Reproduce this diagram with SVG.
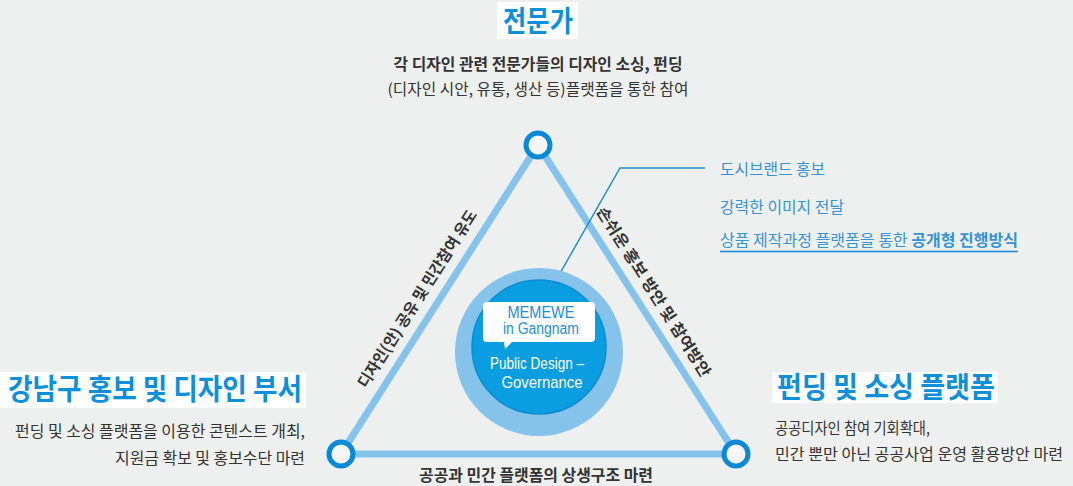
<svg xmlns="http://www.w3.org/2000/svg" width="1073" height="486" viewBox="0 0 1073 486">
<style>
.kr{font-family:"Noto Sans CJK KR","Noto Sans",sans-serif;}
.title{font-weight:700;fill:#0d8fd9;font-size:29px;}
.dark{fill:#333333;font-size:15.5px;}
.b{font-weight:700;}
.list{fill:#3594d4;font-size:16px;}
.en{font-family:"Liberation Sans",Arial,sans-serif;}
.edge{stroke:#86c3eb;stroke-width:7;fill:none;}
.vtx{fill:#f6f6f6;stroke:#0a8ad6;stroke-width:5;}
.box{fill:#ffffff;}
</style>
<rect x="0" y="0" width="1073" height="486" fill="#eeefef"/>

<g id="connectors">
  <line class="edge" x1="538" y1="145" x2="341" y2="454"/>
  <line class="edge" x1="538" y1="145" x2="736" y2="454"/>
  <line class="edge" x1="341" y1="454" x2="736" y2="454"/>
  <polyline points="555,282 620,168 705,168" fill="none" stroke="#1a8fd8" stroke-width="1.5"/>
</g>

<g id="edge-label-left">
  <text class="kr dark b" transform="translate(416,298) rotate(-57.5)" text-anchor="middle" dominant-baseline="central" font-size="16" textLength="207" lengthAdjust="spacingAndGlyphs">디자인(안) 공유 및 민간참여 유도</text>
</g>
<g id="edge-label-right">
  <text class="kr dark b" transform="translate(655,291) rotate(57.5)" text-anchor="middle" dominant-baseline="central" font-size="16" textLength="198" lengthAdjust="spacingAndGlyphs">손쉬운 홍보 방안 및 참여방안</text>
</g>
<g id="edge-label-bottom">
  <text class="kr dark b" x="536" y="481" text-anchor="middle" font-size="16" textLength="234" lengthAdjust="spacingAndGlyphs">공공과 민간 플랫폼의 상생구조 마련</text>
</g>

<g id="center">
  <circle cx="539" cy="352" r="84" fill="#86c3eb"/>
  <circle cx="539" cy="347" r="67" fill="#0a9de0" stroke="#0e8cd0" stroke-width="1.5"/>
  <path d="M487,302 H591 Q595,302 595,306 V338 Q595,342 591,342 H512 L505,349 L504,342 H487 Q483,342 483,338 V306 Q483,302 487,302 Z" fill="#ffffff"/>
  <text class="en" x="541" y="318" text-anchor="middle" font-size="16" fill="#1a8fd8" textLength="67" lengthAdjust="spacingAndGlyphs">MEMEWE</text>
  <text class="en" x="541" y="334" text-anchor="middle" font-size="16" fill="#1a8fd8" textLength="76" lengthAdjust="spacingAndGlyphs">in Gangnam</text>
  <text class="en" x="537" y="369" text-anchor="middle" font-size="17" fill="#ffffff" textLength="94" lengthAdjust="spacingAndGlyphs">Public Design –</text>
  <text class="en" x="542" y="388" text-anchor="middle" font-size="17" fill="#ffffff" textLength="81" lengthAdjust="spacingAndGlyphs">Governance</text>
</g>

<g id="node-top">
  <circle class="vtx" cx="538" cy="145" r="12"/>
  <rect class="box" x="497" y="2" width="81" height="37"/>
  <text class="kr title" x="538" y="32" text-anchor="middle" font-size="30" textLength="70" lengthAdjust="spacingAndGlyphs">전문가</text>
  <text class="kr dark b" x="538" y="70" text-anchor="middle" textLength="289" lengthAdjust="spacingAndGlyphs">각 디자인 관련 전문가들의 디자인 소싱, 펀딩</text>
  <text class="kr dark" x="538" y="95" text-anchor="middle" textLength="301" lengthAdjust="spacingAndGlyphs">(디자인 시안, 유통, 생산 등)플랫폼을 통한 참여</text>
</g>

<g id="node-left">
  <circle class="vtx" cx="341" cy="454" r="12"/>
  <rect class="box" x="0" y="372" width="306" height="36"/>
  <text class="kr title" x="8" y="400" textLength="294" lengthAdjust="spacingAndGlyphs">강남구 홍보 및 디자인 부서</text>
  <text class="kr dark" x="305" y="437" text-anchor="end" textLength="290" lengthAdjust="spacingAndGlyphs">펀딩 및 소싱 플랫폼을 이용한 콘텐스트 개최,</text>
  <text class="kr dark" x="305" y="464" text-anchor="end" textLength="190" lengthAdjust="spacingAndGlyphs">지원금 확보 및 홍보수단 마련</text>
</g>

<g id="node-right">
  <circle class="vtx" cx="736" cy="454" r="12"/>
  <rect class="box" x="772" y="372" width="226" height="31"/>
  <text class="kr title" x="777" y="398" font-size="28" textLength="218" lengthAdjust="spacingAndGlyphs">펀딩 및 소싱 플랫폼</text>
  <text class="kr dark" x="775" y="434" textLength="155" lengthAdjust="spacingAndGlyphs">공공디자인 참여 기회확대,</text>
  <text class="kr dark" x="775" y="460" textLength="288" lengthAdjust="spacingAndGlyphs">민간 뿐만 아닌 공공사업 운영 활용방안 마련</text>
</g>

<g id="callout">
  <text class="kr list" x="720" y="175" textLength="105" lengthAdjust="spacingAndGlyphs">도시브랜드 홍보</text>
  <text class="kr list" x="720" y="213" textLength="124" lengthAdjust="spacingAndGlyphs">강력한 이미지 전달</text>
  <text class="kr list" x="720" y="246" textLength="298" lengthAdjust="spacingAndGlyphs">상품 제작과정 플랫폼을 통한 <tspan class="b">공개형 진행방식</tspan></text>
  <line x1="720" y1="251.5" x2="1018" y2="251.5" stroke="#1a8ad8" stroke-width="1.3"/>
</g>
</svg>
